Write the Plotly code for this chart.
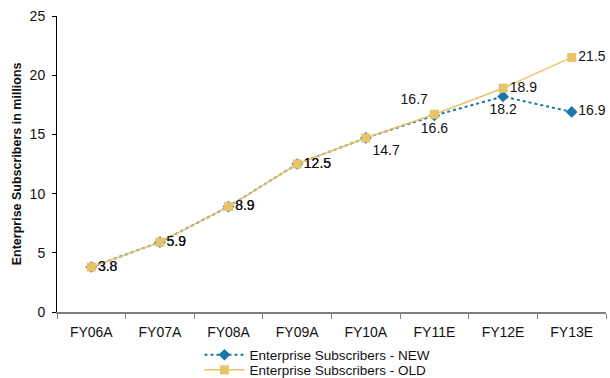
import plotly.graph_objects as go

categories = ["FY06A", "FY07A", "FY08A", "FY09A", "FY10A", "FY11E", "FY12E", "FY13E"]
new_values = [3.8, 5.9, 8.9, 12.5, 14.7, 16.6, 18.2, 16.9]
old_values = [3.8, 5.9, 8.9, 12.5, 14.7, 16.7, 18.9, 21.5]
new_labels = ["3.8", "5.9", "8.9", "12.5", "", "16.6", "18.2", "16.9"]
old_labels = ["3.8", "5.9", "8.9", "12.5", "14.7", "16.7", "18.9", "21.5"]
new_pos = ["middle right"] * 4 + ["bottom right", "bottom center", "bottom center", "middle right"]
old_pos = ["middle right"] * 4 + ["bottom right", "top left", "middle right", "middle right"]

BLUE = "#1A75A8"
GOLD = "#E9C368"
FONT = "Liberation Sans, Arial, sans-serif"

fig = go.Figure()
fig.add_trace(go.Scatter(
    x=categories, y=new_values, name="Enterprise Subscribers - NEW",
    mode="lines+markers+text", text=new_labels, textposition=new_pos,
    textfont=dict(size=14, color="#111111", family=FONT),
    line=dict(color=BLUE, width=2, dash="dot"),
    marker=dict(symbol="diamond", size=9, color=BLUE),
    cliponaxis=False, legend="legend",
))
fig.add_trace(go.Scatter(
    x=categories, y=old_values, name="Enterprise Subscribers - OLD",
    mode="lines+markers+text", text=old_labels, textposition=old_pos,
    textfont=dict(size=14, color="#111111", family=FONT),
    line=dict(color=GOLD, width=1.5),
    marker=dict(symbol="square", size=9, color=GOLD),
    cliponaxis=False, legend="legend2",
))

legend_common = dict(
    orientation="v", xref="container", yref="container", xanchor="left", yanchor="middle",
    font=dict(size=13.5, family=FONT), itemwidth=40, bgcolor="rgba(0,0,0,0)",
)

fig.update_layout(
    width=610, height=378,
    margin=dict(l=57, r=4, t=16, b=66, autoexpand=False),
    paper_bgcolor="white", plot_bgcolor="white",
    font=dict(family=FONT, size=14, color="#111111"),
    showlegend=True,
    legend=dict(x=0.327, y=1 - 355 / 378, **legend_common),
    legend2=dict(x=0.327, y=1 - 370 / 378, **legend_common),
    xaxis=dict(
        type="category", showgrid=False, showline=True, linecolor="#808080", linewidth=2,
        ticks="outside", tickson="boundaries", ticklen=5, tickcolor="#808080",
        tickfont=dict(size=14), zeroline=False, range=[-0.5, 7.5], ticklabelstandoff=6,
    ),
    yaxis=dict(
        range=[0, 25], dtick=5, showgrid=False, showline=True, linecolor="#000000", linewidth=1,
        ticks="outside", ticklen=4, tickcolor="#000000", tickfont=dict(size=14),
        zeroline=False, ticklabelstandoff=4,
    ),
    annotations=[dict(
        text="<b>Enterprise Subscribers in millions</b>", textangle=-90,
        xref="paper", yref="paper", x=-40 / 553, y=0.5, xanchor="center", yanchor="middle",
        showarrow=False, font=dict(size=12.5, family=FONT, color="#111111"),
    )],
)

fig.write_html("out.html")
